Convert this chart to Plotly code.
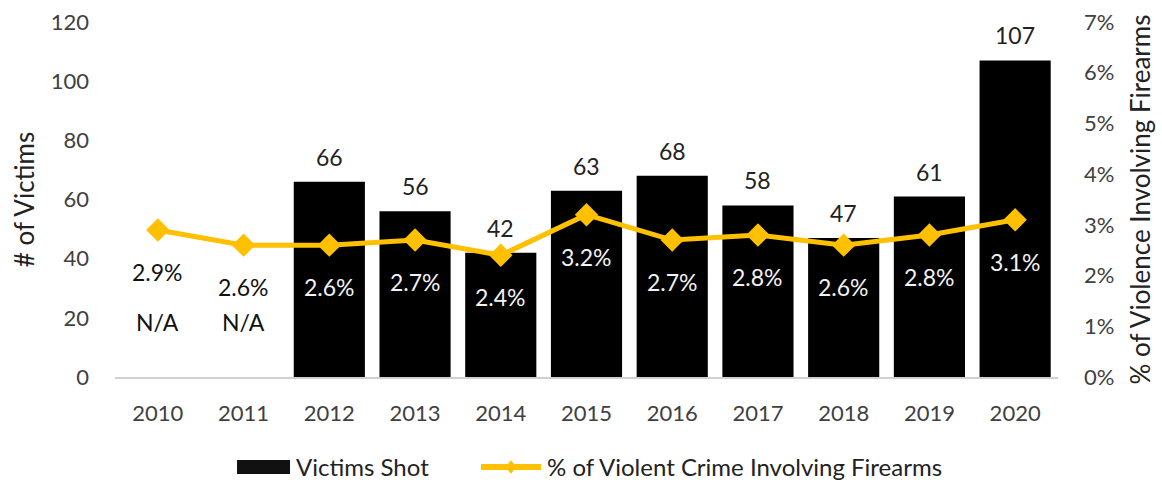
import plotly.graph_objects as go

years = ["2010", "2011", "2012", "2013", "2014", "2015", "2016", "2017", "2018", "2019", "2020"]
victims_shot = [None, None, 66, 56, 42, 63, 68, 58, 47, 61, 107]
pct_firearms = [2.9, 2.6, 2.6, 2.7, 2.4, 3.2, 2.7, 2.8, 2.6, 2.8, 3.1]
left_ticks = [0, 20, 40, 60, 80, 100, 120]
right_ticks = [0, 1, 2, 3, 4, 5, 6, 7]
right_tick_labels = ["0%", "1%", "2%", "3%", "4%", "5%", "6%", "7%"]
bar_name = "Victims Shot"
line_name = "% of Violent Crime Involving Firearms"

FONT = "Lato"
GOLD = "#FFC000"
TICKCOL = "#404040"
TICK_SIZE = 22
LABEL_SIZE = 23

xpos = list(range(len(years)))

fig = go.Figure()
fig.add_trace(go.Bar(
    x=xpos, y=victims_shot, name=bar_name,
    marker=dict(color="#000000", line=dict(width=0)),
    showlegend=False,
))
fig.add_trace(go.Scatter(
    x=xpos, y=pct_firearms, name=line_name,
    yaxis="y2", mode="lines+markers",
    line=dict(color=GOLD, width=5),
    marker=dict(symbol="diamond", size=18, color=GOLD),
    showlegend=False,
))

annotations = []
for i, v, p in zip(xpos, victims_shot, pct_firearms):
    annotations.append(dict(
        x=i, y=p, xref="x", yref="y2", text=f"{p}%", showarrow=False,
        yshift=-42, font=dict(family=FONT, size=LABEL_SIZE, color="#111111" if v is None else "#F2F2F2"),
    ))
    if v is None:
        annotations.append(dict(
            x=i, y=0, xref="x", yref="y", text="N/A", showarrow=False,
            yshift=55, font=dict(family=FONT, size=LABEL_SIZE, color="#111111"),
        ))
    else:
        annotations.append(dict(
            x=i, y=v, xref="x", yref="y", text=str(v), showarrow=False,
            yshift=25, font=dict(family=FONT, size=LABEL_SIZE, color="#222222"),
        ))

# manual legend (below the plot)
LEG_Y = -0.2535
annotations.append(dict(x=0.1898, y=LEG_Y, xref="paper", yref="paper", xanchor="left", yanchor="middle",
                        text=bar_name, showarrow=False, font=dict(family=FONT, size=24, color="#222222")))
annotations.append(dict(x=0.4560, y=LEG_Y, xref="paper", yref="paper", xanchor="left", yanchor="middle",
                        text=line_name, showarrow=False, font=dict(family=FONT, size=24, color="#222222")))
dx, dy = 0.0058, 0.019
DX = 0.4199
shapes = [
    dict(type="rect", xref="paper", yref="paper", x0=0.1294, x1=0.1856, y0=-0.2732, y1=-0.2338,
         fillcolor="#111111", line=dict(width=0)),
    dict(type="line", xref="paper", yref="paper", x0=0.3881, x1=0.4518, y0=LEG_Y, y1=LEG_Y,
         line=dict(color=GOLD, width=6)),
    dict(type="path", xref="paper", yref="paper",
         path=f"M {DX - dx} {LEG_Y} L {DX} {LEG_Y + dy} L {DX + dx} {LEG_Y} L {DX} {LEG_Y - dy} Z",
         fillcolor=GOLD, line=dict(width=0)),
]

fig.update_layout(
    width=1162, height=485,
    margin=dict(l=115, r=104, t=22, b=108, autoexpand=False),
    paper_bgcolor="white", plot_bgcolor="white",
    font=dict(family=FONT, size=TICK_SIZE, color=TICKCOL),
    bargap=0.17,
    showlegend=False,
    xaxis=dict(type="linear", range=[-0.5, len(years) - 0.5], tickvals=xpos, ticktext=years,
               showgrid=False, showline=True, linecolor="#D0D0D0", linewidth=2, zeroline=False,
               ticks="", ticklabelstandoff=16, tickfont=dict(size=TICK_SIZE, color=TICKCOL)),
    yaxis=dict(range=[0, 120], tickvals=left_ticks, showgrid=False, zeroline=False,
               showline=False, ticks="", ticklabelstandoff=25,
               title=dict(text="# of Victims", font=dict(size=26, color="#222222"), standoff=8),
               tickfont=dict(size=TICK_SIZE, color=TICKCOL)),
    yaxis2=dict(range=[0, 7], tickvals=right_ticks, ticktext=right_tick_labels,
                overlaying="y", side="right",
                showgrid=False, zeroline=False, showline=False, ticks="", ticklabelstandoff=25,
                title=dict(text="% of Violence Involving Firearms", font=dict(size=26, color="#222222"), standoff=18),
                tickfont=dict(size=TICK_SIZE, color=TICKCOL)),
    annotations=annotations,
    shapes=shapes,
)

fig.write_html("out.html")
